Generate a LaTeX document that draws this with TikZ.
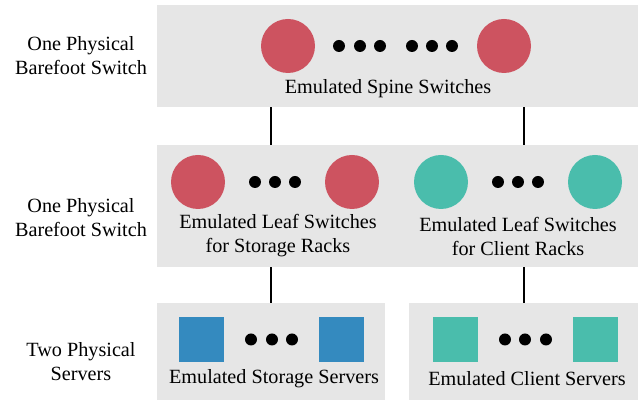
\documentclass[tikz,border=0pt]{standalone}
\usepackage{fontspec}
\setmainfont{Liberation Serif}
\definecolor{swred}{RGB}{205, 83, 96}
\definecolor{swteal}{RGB}{74, 189, 172}
\definecolor{srvblue}{RGB}{52, 138, 191}
\definecolor{boxgray}{RGB}{230, 230, 230}
\usetikzlibrary{positioning, calc}

\begin{document}
\begin{tikzpicture}[x=0.5pt, y=-0.5pt, font=\fontsize{10.1}{12}\selectfont,
  layer/.style={fill=boxgray, inner sep=0pt},
  sw/.style={circle, inner sep=0pt, minimum size=27pt},
  srv/.style={rectangle, inner sep=0pt, minimum size=22.5pt},
  dot/.style={circle, fill=black, inner sep=0pt, minimum size=6pt},
  link/.style={line width=1pt}]
  \useasboundingbox (0, 0) rectangle (639, 400);

  % Layers
  \node[layer, minimum width=240.5pt, minimum height=51pt] (spinebox) at (397.5, 56) {};
  \node[layer, minimum width=240.5pt, minimum height=61pt] (leafbox) at (397.5, 206) {};
  \node[layer, minimum width=114pt, minimum height=48.5pt] (storbox) at (271, 351.5) {};
  \node[layer, minimum width=114.5pt, minimum height=48.5pt] (clibox) at (523.5, 351.5) {};

  % Left labels
  \node[align=center] (lab1) at (81, 56) {One Physical\\Barefoot Switch};
  \node[align=center] (lab2) at (81, 218) {One Physical\\Barefoot Switch};
  \node[align=center] (lab3) at (81, 362) {Two Physical\\Servers};

  % Spine switches
  \node[sw, fill=swred] (spine1) at (288, 46) {};
  \node[dot] (sd1) at (339, 46) {};
  \node[dot] (sd2) at (360, 46) {};
  \node[dot] (sd3) at (380, 46) {};
  \node[dot] (sd4) at (412, 46) {};
  \node[dot] (sd5) at (432, 46) {};
  \node[dot] (sd6) at (452, 46) {};
  \node[sw, fill=swred] (spine2) at (504, 46) {};
  \node (spinetxt) at (388, 89) {Emulated Spine Switches};

  % Leaf switches
  \node[sw, fill=swred] (sleaf1) at (198, 182) {};
  \node[dot] (ld1) at (255, 182) {};
  \node[dot] (ld2) at (275, 182) {};
  \node[dot] (ld3) at (295, 182) {};
  \node[sw, fill=swred] (sleaf2) at (352, 182) {};
  \node[align=center] (sleaftxt) at (278, 236) {Emulated Leaf Switches\\for Storage Racks};

  \node[sw, fill=swteal] (cleaf1) at (441, 182) {};
  \node[dot] (ld4) at (498, 182) {};
  \node[dot] (ld5) at (518, 182) {};
  \node[dot] (ld6) at (538, 182) {};
  \node[sw, fill=swteal] (cleaf2) at (595, 182) {};
  \node[align=center] (cleaftxt) at (518, 236) {Emulated Leaf Switches\\for Client Racks};

  % Servers
  \node[srv, fill=srvblue] (stor1) at (201.5, 339.5) {};
  \node[dot] (vd1) at (251, 339.5) {};
  \node[dot] (vd2) at (272, 339.5) {};
  \node[dot] (vd3) at (292, 339.5) {};
  \node[srv, fill=srvblue] (stor2) at (341, 339.5) {};
  \node (stortxt) at (274, 379) {Emulated Storage Servers};

  \node[srv, fill=swteal] (cli1) at (455.5, 339.5) {};
  \node[dot] (vd4) at (505, 339.5) {};
  \node[dot] (vd5) at (525, 339.5) {};
  \node[dot] (vd6) at (546, 339.5) {};
  \node[srv, fill=swteal] (cli2) at (595, 339.5) {};
  \node (clitxt) at (527, 379) {Emulated Client Servers};

  % Links
  \draw[link] (storbox.north) -- (storbox.north |- leafbox.south);
  \draw[link] (storbox.north |- leafbox.north) -- (storbox.north |- spinebox.south);
  \draw[link] (clibox.north) -- (clibox.north |- leafbox.south);
  \draw[link] (clibox.north |- leafbox.north) -- (clibox.north |- spinebox.south);
\end{tikzpicture}
\end{document}
